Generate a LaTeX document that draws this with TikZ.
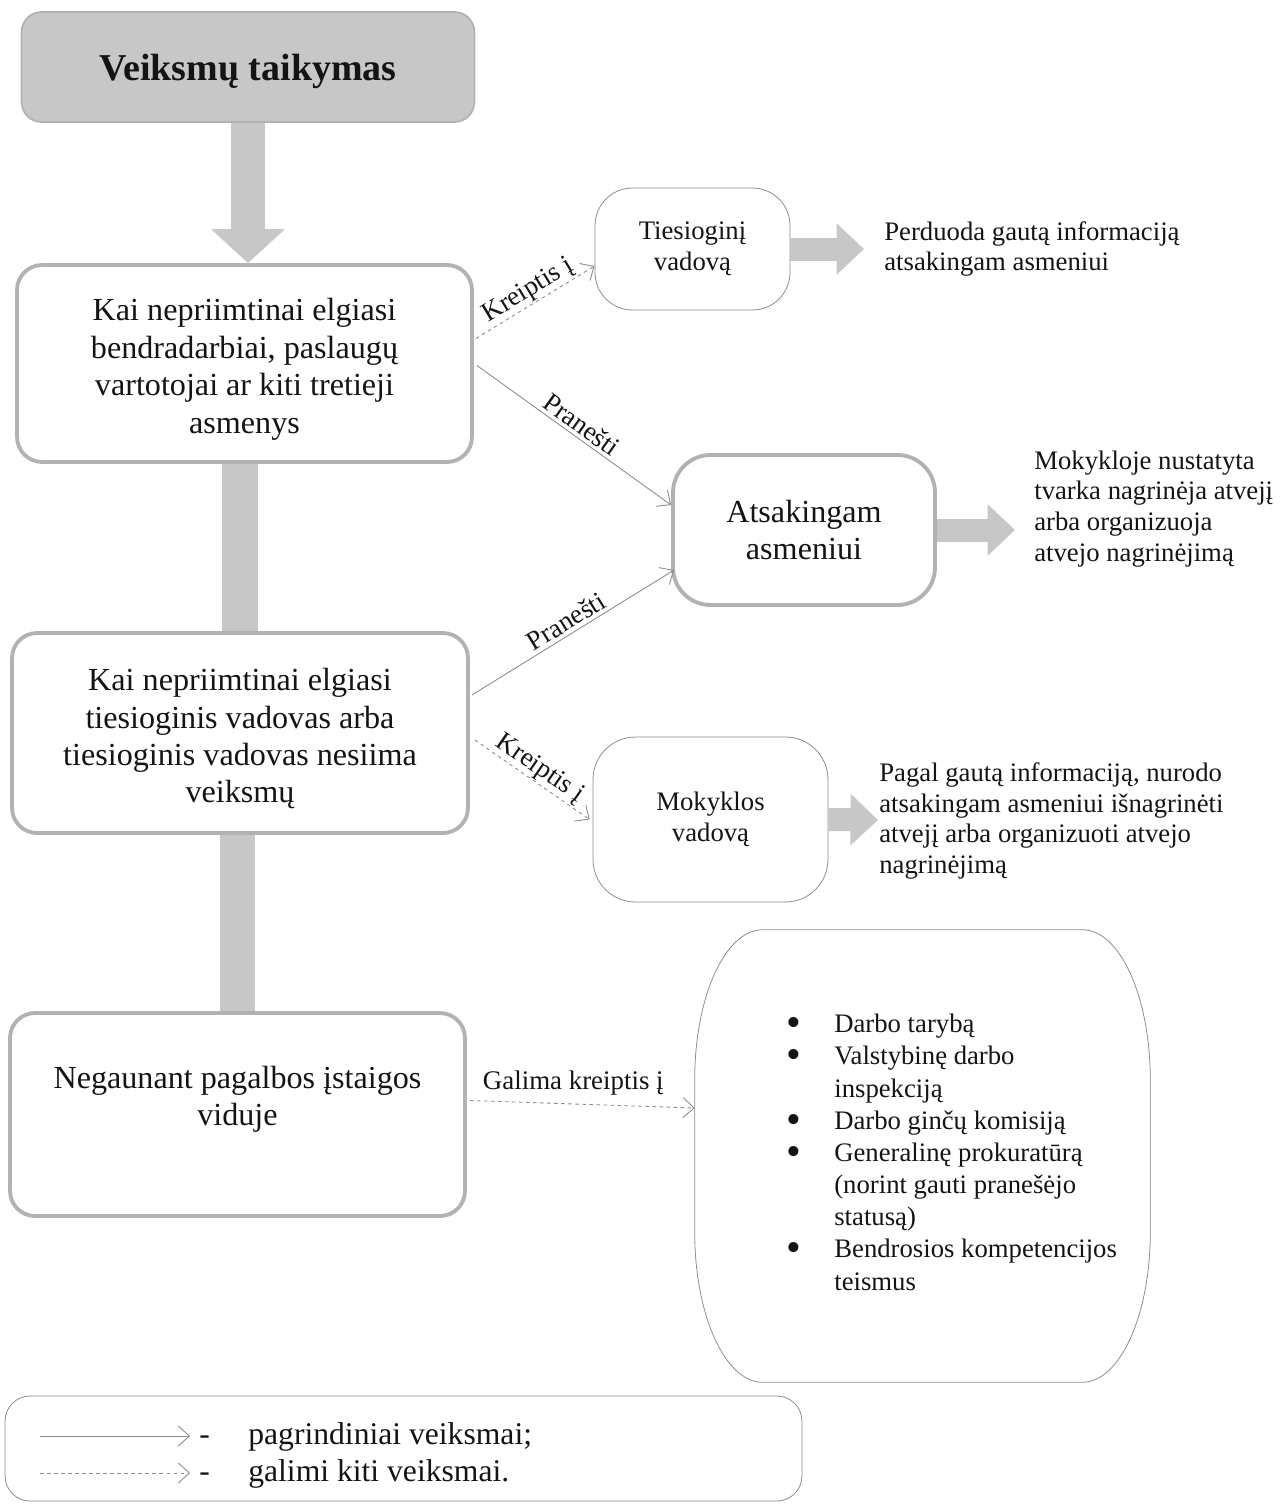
\documentclass[tikz,border=0pt]{standalone}
\usepackage{fontspec}
\setmainfont{Liberation Serif}
\usetikzlibrary{arrows.meta,calc}
\definecolor{boxgray}{gray}{0.70}
\definecolor{fillgray}{gray}{0.78}
\definecolor{linegray}{gray}{0.55}
\definecolor{ink}{gray}{0.08}
\newcommand{\topstrut}{\rule{0pt}{1.05em}}
\newcommand{\bigbullet}{\makebox[0pt][l]{\raisebox{-2.2pt}{\fontsize{24}{18}\selectfont\textbullet}}}
\begin{document}
\begin{tikzpicture}[x=0.02cm,y=-0.02cm,
 every node/.style={text=ink},
 mainbox/.style={draw=boxgray, line width=2.2pt, rounded corners=0.5cm, align=center,
   font=\fontsize{18.3}{21.3}\selectfont, inner sep=0pt},
 thinbox/.style={draw=linegray, line width=0.45pt, rounded corners=0.75cm, align=center,
   font=\fontsize{15.2}{17.6}\selectfont, inner sep=0pt},
 note/.style={align=left, anchor=west, font=\fontsize{15.2}{17.6}\selectfont, inner sep=0pt},
 fatarrow/.style={draw=fillgray, line width=0.46cm, -{Triangle[length=0.55cm,width=1cm]}},
 mainarrow/.style={draw=linegray, line width=0.5pt, -{Straight Barb[length=2.2mm,width=4mm]}},
 otherarrow/.style={mainarrow, dash pattern=on 2pt off 2pt},
 lbl/.style={font=\fontsize{15.3}{17}\selectfont, sloped, above, inner sep=2pt},
 legtext/.style={anchor=base west, font=\fontsize{18}{21}\selectfont, inner sep=0pt},
]
\useasboundingbox (0,0) rectangle (1287,1505);

% main column
\node[draw=boxgray, fill=fillgray, line width=1pt, rounded corners=0.4cm,
  minimum width=9.06cm, minimum height=2.2cm, inner sep=0pt, text depth=0pt,
  font=\fontsize{21.6}{25}\selectfont\bfseries] (top) at (248,67) {Veiksmų taikymas};
\node[mainbox, minimum width=9.1cm, minimum height=3.94cm] (b1) at (244.5,363.5)
  {\topstrut Kai nepriimtinai elgiasi\\bendradarbiai, paslaugų\\vartotojai ar kiti tretieji\\asmenys};
\node[mainbox, minimum width=9.12cm, minimum height=4cm] (b2) at (240,733)
  {\topstrut Kai nepriimtinai elgiasi\\tiesioginis vadovas arba\\tiesioginis vadovas nesiima\\veiksmų};
\node[mainbox, minimum width=9.1cm, minimum height=4.06cm] (b3) at (237.5,1114.5)
  {Negaunant pagalbos įstaigos\\viduje\\ \mbox{}};

% right nodes
\node[thinbox, minimum width=3.9cm, minimum height=2.44cm] (t1) at (692.5,249)
  {Tiesioginį\\vadovą};
\node[note] (p1) at (884,249) {Perduoda gautą informaciją\\atsakingam asmeniui};
\node[mainbox, rounded corners=0.75cm, minimum width=5.24cm, minimum height=3cm] (a1) at (804,530)
  {Atsakingam\\asmeniui};
\node[note] (p2) at (1034,509) {Mokykloje nustatyta\\tvarka nagrinėja atvejį\\arba organizuoja\\atvejo nagrinėjimą};
\node[thinbox, rounded corners=0.85cm, minimum width=4.7cm, minimum height=3.3cm] (m1) at (710.5,819.5)
  {Mokyklos\\vadovą};
\node[note] (p3) at (879,821) {Pagal gautą informaciją, nurodo\\atsakingam asmeniui išnagrinėti\\atvejį arba organizuoti atvejo\\nagrinėjimą};

% big list box
\node[minimum width=9.1cm, minimum height=9.04cm, inner sep=0pt] (big) at (922.5,1156) {};
\draw[linegray, line width=0.45pt]
  ($(big.north west)+(68,0)$) -- ($(big.north east)+(-68,0)$)
  arc[start angle=90, end angle=0, x radius=1.36cm, y radius=3cm]
  -- ($(big.south east)+(0,-150)$)
  arc[start angle=0, end angle=-90, x radius=1.36cm, y radius=3cm]
  -- ($(big.south west)+(68,0)$)
  arc[start angle=270, end angle=180, x radius=1.36cm, y radius=3cm]
  -- ($(big.north west)+(0,150)$)
  arc[start angle=180, end angle=90, x radius=1.36cm, y radius=3cm] -- cycle;
\node[anchor=west, inner sep=0pt, font=\fontsize{15.2}{18.3}\selectfont] (list) at (786,1155)
  {\begin{tabular}{@{}p{0.96cm}@{}l@{}}
   \bigbullet & Darbo tarybą\\
   \bigbullet & Valstybinę darbo\\
    & inspekciją\\
   \bigbullet & Darbo ginčų komisiją\\
   \bigbullet & Generalinę prokuratūrą\\
    & (norint gauti pranešėjo\\
    & statusą)\\
   \bigbullet & Bendrosios kompetencijos\\
    & teismus
  \end{tabular}};

% thick gray connectors
\draw[draw=fillgray, line width=0.7cm, -{Triangle[length=0.68cm,width=1.44cm]}]
  (top.south) -- (top.south |- b1.north);
\draw[draw=fillgray, line width=0.72cm] (b2.north |- b1.south) -- (b2.north);
\draw[draw=fillgray, line width=0.72cm] (b3.north |- b2.south) -- (b3.north);

\draw[fatarrow] (t1.east) -- ($(p1.west)+(-20,0)$);
\draw[fatarrow] (a1.east) -- ($(p2.west)+(-19,21)$);
\draw[fatarrow] (m1.east) -- ($(p3.west)+(-1,-1)$);

% thin connectors
\draw[otherarrow] ($(b1.east)+(2,-25)$) -- node[lbl, inner sep=0.5pt] {Kreiptis į} ($(t1.west)+(0,17)$);
\draw[mainarrow] ($(b1.east)+(3,2)$) -- node[lbl] {Pranešti} ($(a1.west)+(0,-25)$);
\draw[mainarrow] ($(b2.east)+(2,-38)$) -- node[lbl] {Pranešti} ($(a1.west)+(3,40)$);
\draw[otherarrow] ($(b2.east)+(5,7)$) -- node[lbl, inner sep=0.5pt] {Kreiptis į} ($(m1.west)+(-3,0)$);
\draw[otherarrow] ($(b3.east)+(3,-14)$) -- node[lbl, pos=0.46, sloped=false, inner sep=5pt] {Galima kreiptis į} ($(big.west)+(0,-48)$);

% legend
\node[draw=linegray, line width=0.45pt, rounded corners=0.5cm, minimum width=15.94cm,
  minimum height=2.1cm, inner sep=0pt] (leg) at (403.5,1448.5) {};
\coordinate (l1a) at (40,1436);
\coordinate (l1b) at (190,1436);
\coordinate (l2a) at (40,1473);
\coordinate (l2b) at (190,1473);
\draw[mainarrow] (l1a) -- (l1b);
\draw[otherarrow] (l2a) -- (l2b);
\node[legtext] (d1) at (199,1444) {-};
\node[legtext] (d2) at (199,1481) {-};
\node[legtext] (g1) at (248,1444) {pagrindiniai veiksmai;};
\node[legtext] (g2) at (248,1481) {galimi kiti veiksmai.};
\end{tikzpicture}
\end{document}
